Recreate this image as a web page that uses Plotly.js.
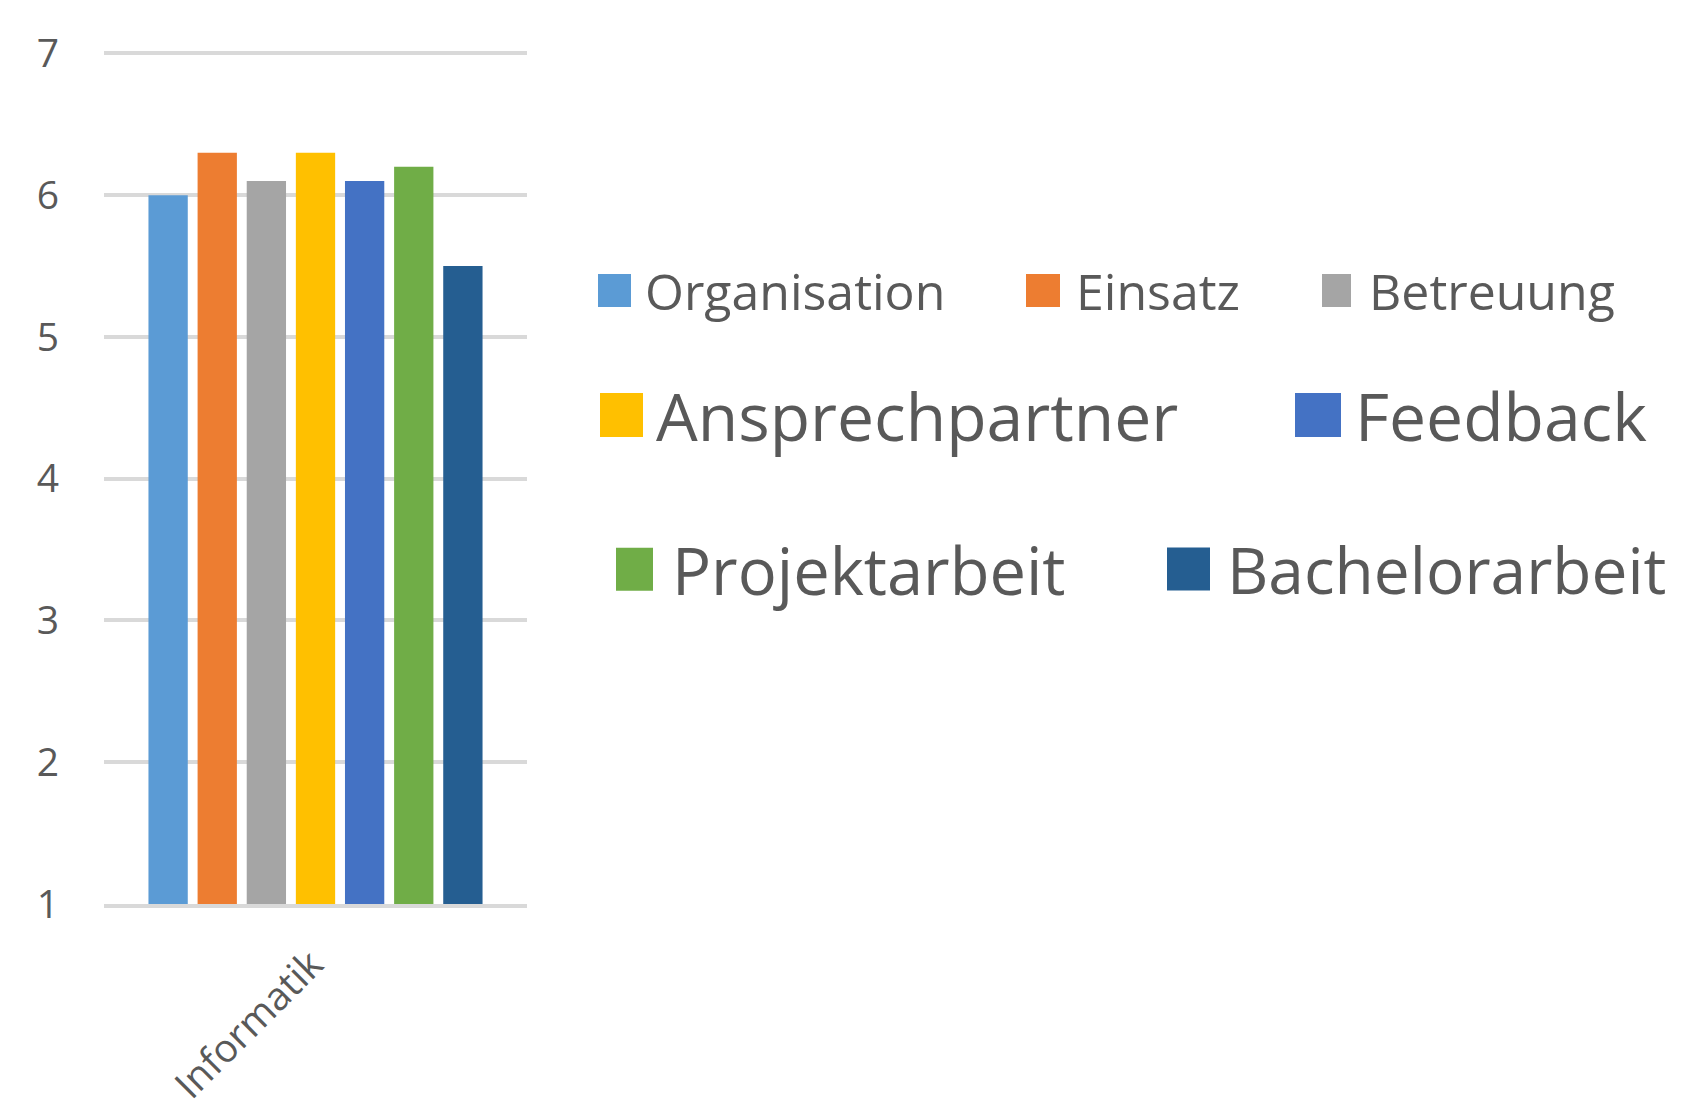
<!DOCTYPE html>
<html>
<head>
<meta charset="utf-8">
<script src="https://cdn.plot.ly/plotly-3.0.1.min.js"></script>
<style>
html,body{margin:0;padding:0;background:#ffffff;}
#chart{width:1683px;height:1103px;}
</style>
</head>
<body>
<div id="chart"></div>
<script>
// ---- data ----
const categories = ['Informatik'];
const seriesNames = ['Organisation', 'Einsatz', 'Betreuung', 'Ansprechpartner', 'Feedback', 'Projektarbeit', 'Bachelorarbeit'];
const organisation = [6.0];
const einsatz = [6.3];
const betreuung = [6.1];
const ansprechpartner = [6.3];
const feedback = [6.1];
const projektarbeit = [6.2];
const bachelorarbeit = [5.5];
const yTickValues = [1, 2, 3, 4, 5, 6, 7];

// ---- styles / layout tables ----
const seriesValues = [organisation, einsatz, betreuung, ansprechpartner, feedback, projektarbeit, bachelorarbeit];
const seriesColors = ['#5B9BD5', '#ED7D31', '#A5A5A5', '#FFC000', '#4472C4', '#70AD47', '#255E91'];
const W = 1683, H = 1103;
const FONT = '"Open Sans", "Noto Sans", sans-serif';
const TEXT = '#595959';
// legend entry placement: swatch centre (px), swatch size, font size, item width
const legendBoxes = [
  {cx: 614.5,  cy: 290.5, w: 33, h: 33, fs: 50, iw: 51},
  {cx: 1043,   cy: 290.5, w: 34, h: 33, fs: 50, iw: 56},
  {cx: 1336.5, cy: 290.5, w: 29, h: 33, fs: 50, iw: 55},
  {cx: 621.5,  cy: 415,   w: 43, h: 44, fs: 66, iw: 59},
  {cx: 1318,   cy: 415,   w: 46, h: 44, fs: 66, iw: 64},
  {cx: 634.5,  cy: 569.5, w: 37, h: 43, fs: 65, iw: 65},
  {cx: 1188.5, cy: 569.5, w: 43, h: 43, fs: 64, iw: 67}
];
const legendId = i => (i === 0 ? 'legend' : 'legend' + (i + 1));
const swatchPath = b => 'M' + (b.w / 2) + ',' + (b.h / 2) + 'H' + (-b.w / 2) + 'V' + (-b.h / 2) + 'H' + (b.w / 2) + 'Z';

// CSS override of the legend swatch geometry (survives redraws)
(function () {
  const css = legendBoxes.map((b, i) =>
    '#chart g.' + legendId(i) + ' .legendpoints path { d: path("' + swatchPath(b) + '") !important; }'
  ).join('\n');
  const st = document.createElement('style');
  st.textContent = css;
  document.head.appendChild(st);
})();

const traces = seriesNames.map((name, i) => ({
  type: 'bar',
  name: name,
  x: categories,
  y: seriesValues[i],
  marker: {color: seriesColors[i]},
  legend: legendId(i),
  hoverinfo: 'none'
}));

const layout = {
  width: W,
  height: H,
  paper_bgcolor: '#ffffff',
  plot_bgcolor: '#ffffff',
  margin: {l: 104, r: W - 527, t: 52, b: H - 904, pad: 0, autoexpand: false},
  barmode: 'group',
  bargap: 0.187,
  bargroupgap: 0.2,
  showlegend: true,
  xaxis: {
    type: 'category',
    automargin: false,
    tickangle: -45,
    tickfont: {family: FONT, size: 39, color: TEXT},
    ticklabelstandoff: 18,
    ticklabelshift: -4,
    showline: true,
    linecolor: '#D9D9D9',
    linewidth: 4,
    ticks: '',
    showgrid: false,
    zeroline: false,
    fixedrange: true
  },
  yaxis: {
    automargin: false,
    range: [1, 7.01],
    tickmode: 'array',
    tickvals: yTickValues,
    ticktext: yTickValues.map(String),
    tickfont: {family: FONT, size: 39, color: TEXT},
    ticks: '',
    ticklabelstandoff: 44,
    showgrid: true,
    gridcolor: '#D9D9D9',
    gridwidth: 4,
    zeroline: false,
    showline: false,
    fixedrange: true
  }
};

legendBoxes.forEach((b, i) => {
  layout[legendId(i)] = {
    xref: 'container',
    yref: 'container',
    x: (b.cx - (b.iw + 10) / 2) / W,
    y: 1 - b.cy / H,
    xanchor: 'left',
    yanchor: 'middle',
    orientation: 'h',
    itemwidth: b.iw,
    font: {family: FONT, size: b.fs, color: TEXT},
    bgcolor: 'rgba(0,0,0,0)',
    borderwidth: 0,
    itemclick: false,
    itemdoubleclick: false
  };
});

function resizeSwatches() {
  document.querySelectorAll('#chart .legendtext').forEach(t => {
    const idx = seriesNames.indexOf(t.textContent);
    if (idx < 0) return;
    const d = swatchPath(legendBoxes[idx]);
    t.parentNode.querySelectorAll('.legendpoints path').forEach(p => {
      if (p.getAttribute('d') !== d) p.setAttribute('d', d);
    });
  });
}

const gd = document.getElementById('chart');
const obs = new MutationObserver(resizeSwatches);
obs.observe(gd, {childList: true, subtree: true});
Plotly.newPlot(gd, traces, layout, {displayModeBar: false, responsive: false}).then(() => {
  resizeSwatches();
  gd.on('plotly_afterplot', resizeSwatches);
  setTimeout(resizeSwatches, 50);
  setTimeout(resizeSwatches, 300);
});
</script>
</body>
</html>
